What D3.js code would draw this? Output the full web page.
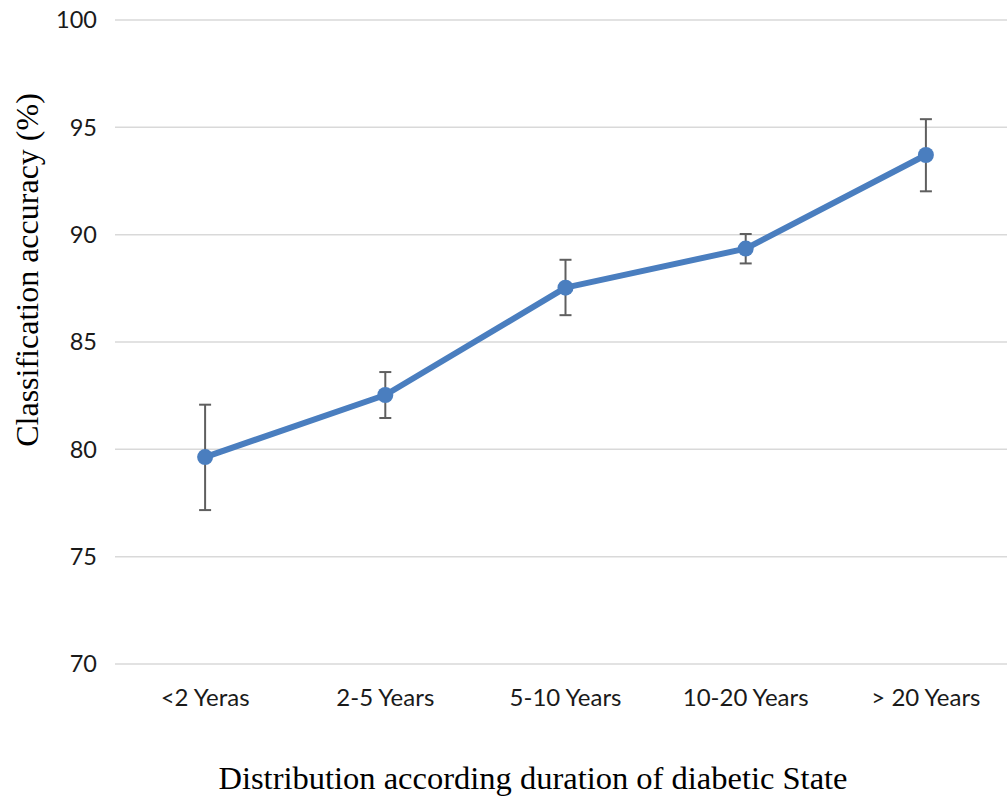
<!DOCTYPE html>
<html>
<head>
<meta charset="utf-8">
<script src="https://cdn.jsdelivr.net/npm/d3@7"></script>
<style>
  body { margin: 0; background: #fff; }
  svg { display: block; }
</style>
</head>
<body>
<svg id="chart"></svg>
<script>
// values
const categories = ["<2 Yeras", "2-5 Years", "5-10 Years", "10-20 Years", "> 20 Years"];
const accuracy = [79.64, 82.53, 87.53, 89.35, 93.71];
const errUpper = [82.08, 83.6, 88.83, 90.03, 95.38];
const errLower = [77.17, 81.46, 86.25, 88.66, 92.02];
const yTicks = [70, 75, 80, 85, 90, 95, 100];

const width = 1007;
const height = 796;
const tickFont = "Lato, Open Sans, sans-serif";
const titleFont = "Liberation Serif, Times New Roman, serif";

const svg = d3.select("#chart").attr("width", width).attr("height", height);

const x = d3.scaleBand().domain(categories).range([115, 1016]);
const y = d3.scaleLinear().domain([70, 100]).range([664, 20]);

const points = categories.map((c, i) => ({
  cat: c, v: accuracy[i], hi: errUpper[i], lo: errLower[i]
}));
const cx = (d) => x(d.cat) + x.bandwidth() / 2;

// gridlines
svg.append("g")
  .selectAll("line")
  .data(yTicks)
  .join("line")
  .attr("x1", 115)
  .attr("x2", 1016)
  .attr("y1", (d) => y(d))
  .attr("y2", (d) => y(d))
  .attr("stroke", "#d9d9d9")
  .attr("stroke-width", 1.5);

// y tick labels
svg.append("g")
  .selectAll("text")
  .data(yTicks)
  .join("text")
  .attr("x", 97)
  .attr("y", (d) => y(d))
  .attr("dy", "0.35em")
  .attr("text-anchor", "end")
  .attr("font-family", tickFont)
  .attr("font-size", 23.5)
  .attr("fill", "#1a1a1a")
  .text((d) => d);

// x category labels
svg.append("g")
  .selectAll("text")
  .data(categories)
  .join("text")
  .attr("x", (d) => x(d) + x.bandwidth() / 2)
  .attr("y", 706)
  .attr("text-anchor", "middle")
  .attr("font-family", tickFont)
  .attr("font-size", 24)
  .attr("fill", "#1a1a1a")
  .text((d) => d);

// error bars
const err = svg.append("g").attr("stroke", "#5f5f5f").attr("stroke-width", 2);
err.selectAll(".stem")
  .data(points)
  .join("line")
  .attr("x1", cx).attr("x2", cx)
  .attr("y1", (d) => y(d.hi)).attr("y2", (d) => y(d.lo));
err.selectAll(".capHi")
  .data(points)
  .join("line")
  .attr("x1", (d) => cx(d) - 6).attr("x2", (d) => cx(d) + 6)
  .attr("y1", (d) => y(d.hi)).attr("y2", (d) => y(d.hi));
err.selectAll(".capLo")
  .data(points)
  .join("line")
  .attr("x1", (d) => cx(d) - 6).attr("x2", (d) => cx(d) + 6)
  .attr("y1", (d) => y(d.lo)).attr("y2", (d) => y(d.lo));

// the line and markers
const line = d3.line().x(cx).y((d) => y(d.v));
svg.append("path")
  .datum(points)
  .attr("d", line)
  .attr("fill", "none")
  .attr("stroke", "#4a7ebf")
  .attr("stroke-width", 6)
  .attr("stroke-linejoin", "round");

svg.append("g")
  .selectAll("circle")
  .data(points)
  .join("circle")
  .attr("cx", cx)
  .attr("cy", (d) => y(d.v))
  .attr("r", 8)
  .attr("fill", "#4a7ebf");

// axis titles
svg.append("text")
  .attr("transform", "translate(38,270) rotate(-90)")
  .attr("text-anchor", "middle")
  .attr("font-family", titleFont)
  .attr("font-size", 32)
  .attr("fill", "#000")
  .text("Classification accuracy (%)");

svg.append("text")
  .attr("x", 533)
  .attr("y", 789)
  .attr("text-anchor", "middle")
  .attr("font-family", titleFont)
  .attr("font-size", 32.5)
  .attr("fill", "#000")
  .text("Distribution according duration of diabetic State");
</script>
</body>
</html>
